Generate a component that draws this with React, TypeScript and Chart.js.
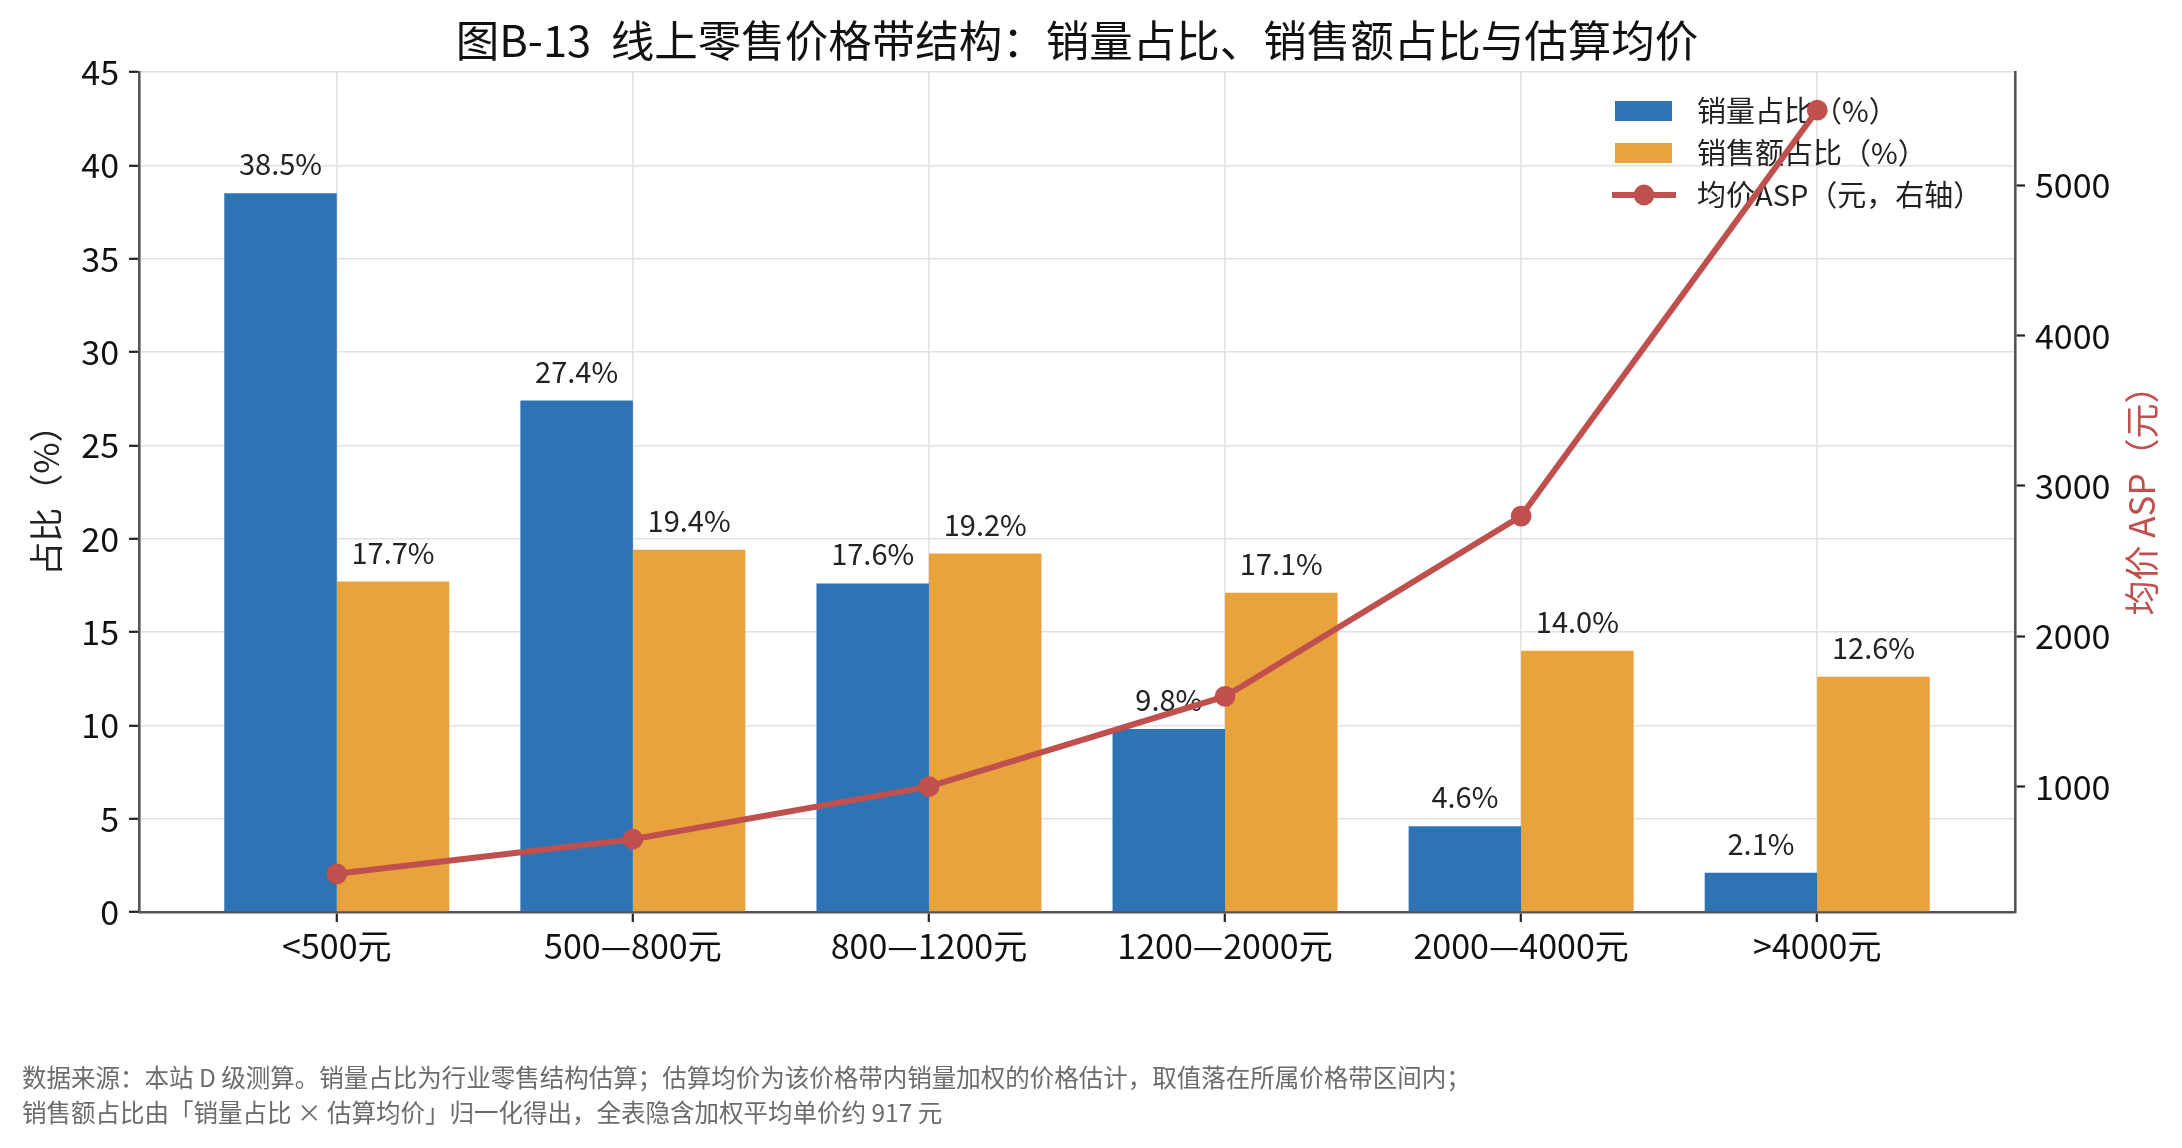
import { Chart, registerables } from 'chart.js';
import { useEffect, useRef } from 'react';

Chart.register(...registerables);

const FONT = "'Noto Sans CJK SC', 'Noto Sans', sans-serif";

const categories = ['<500元', '500—800元', '800—1200元', '1200—2000元', '2000—4000元', '>4000元'];
const volumeShare = [38.5, 27.4, 17.6, 9.8, 4.6, 2.1];
const salesShare = [17.7, 19.4, 19.2, 17.1, 14.0, 12.6];
const avgPrice = [420, 650, 1000, 1600, 2800, 5500];
const rightTicks = [1000, 2000, 3000, 4000, 5000];
const legendLabels = ['销量占比（%）', '销售额占比（%）', '均价ASP（元，右轴）'];

const titleText = '图B-13  线上零售价格带结构：销量占比、销售额占比与估算均价';
const noteLines = [
  '数据来源：本站 D 级测算。销量占比为行业零售结构估算；估算均价为该价格带内销量加权的价格估计，取值落在所属价格带区间内；',
  '销售额占比由「销量占比 × 估算均价」归一化得出，全表隐含加权平均单价约 917 元',
];

const BLUE = '#2E74B5';
const ORANGE = '#E8A33C';
const RED = '#C0504D';
const GRID = '#e2e2e2';
const SPINE = '#555555';

// text, legend and value labels drawn on the canvas
const decorations = {
  id: 'decorations',
  beforeDatasetsDraw(chart: Chart) {
    const ctx = chart.ctx;
    ctx.save();
    // value labels above bars
    ctx.font = `29px ${FONT}`;
    ctx.fillStyle = '#222';
    ctx.textAlign = 'center';
    ctx.textBaseline = 'alphabetic';
    [0, 1].forEach((di) => {
      const meta = chart.getDatasetMeta(di);
      const vals = di === 0 ? volumeShare : salesShare;
      meta.data.forEach((bar: any, i: number) => {
        ctx.fillText(vals[i].toFixed(1) + '%', bar.x, bar.y - 18);
      });
    });

    // legend (under the line)
    const lx = 1615;
    const tx = 1697;
    const rows = [111, 153, 195];
    ctx.fillStyle = BLUE;
    ctx.fillRect(lx, rows[0] - 10, 57, 20);
    ctx.fillStyle = ORANGE;
    ctx.fillRect(lx, rows[1] - 10, 57, 20);
    ctx.strokeStyle = RED;
    ctx.lineWidth = 6;
    ctx.beginPath();
    ctx.moveTo(lx - 3, rows[2]);
    ctx.lineTo(lx + 61, rows[2]);
    ctx.stroke();
    ctx.fillStyle = RED;
    ctx.beginPath();
    ctx.arc(lx + 29, rows[2], 10.4, 0, Math.PI * 2);
    ctx.fill();
    ctx.font = `29px ${FONT}`;
    ctx.fillStyle = '#222';
    ctx.textAlign = 'left';
    ctx.textBaseline = 'middle';
    legendLabels.forEach((t, i) => ctx.fillText(t, tx, rows[i]));
    ctx.restore();
  },
  afterDraw(chart: Chart) {
    const ctx = chart.ctx;
    const { left, right, top, bottom } = chart.chartArea;
    ctx.save();
    // title
    ctx.font = `43.5px ${FONT}`;
    ctx.fillStyle = '#111';
    ctx.textAlign = 'center';
    ctx.textBaseline = 'middle';
    ctx.fillText(titleText, (left + right) / 2, 40);

    // right axis title
    ctx.save();
    ctx.translate(2142, (top + bottom) / 2);
    ctx.rotate(-Math.PI / 2);
    ctx.font = `35px ${FONT}`;
    ctx.fillStyle = RED;
    ctx.fillText('均价 ASP（元）', 0, 0);
    ctx.restore();

    // footnote
    ctx.font = `24.5px ${FONT}`;
    ctx.fillStyle = '#6b6b6b';
    ctx.textAlign = 'left';
    noteLines.forEach((t, i) => ctx.fillText(t, 22, 1078 + i * 35));
    ctx.restore();
  },
};

const App: React.FC = () => {
  const ref = useRef<HTMLCanvasElement>(null);
  const chartInstance = useRef<Chart | null>(null);

  useEffect(() => {
    if (!ref.current) return;
    const ctx = ref.current.getContext('2d');
    if (!ctx) return;
    if (chartInstance.current) chartInstance.current.destroy();

    Chart.defaults.font.family = FONT;

    chartInstance.current = new Chart(ctx, {
      type: 'bar',
      data: {
        datasets: [
          {
            type: 'bar',
            label: legendLabels[0],
            data: volumeShare.map((v, i) => ({ x: i, y: v })),
            backgroundColor: BLUE,
            yAxisID: 'y',
            order: 1,
            categoryPercentage: 0.76,
            barPercentage: 1,
          },
          {
            type: 'bar',
            label: legendLabels[1],
            data: salesShare.map((v, i) => ({ x: i, y: v })),
            backgroundColor: ORANGE,
            yAxisID: 'y',
            order: 1,
            categoryPercentage: 0.76,
            barPercentage: 1,
          },
          {
            type: 'line',
            label: legendLabels[2],
            data: avgPrice.map((v, i) => ({ x: i, y: v })),
            borderColor: RED,
            backgroundColor: RED,
            borderWidth: 6,
            pointRadius: 10.4,
            pointBorderWidth: 0,
            pointBackgroundColor: RED,
            yAxisID: 'y1',
            order: 0,
            tension: 0,
          },
        ] as any,
      },
      options: {
        animation: false,
        responsive: true,
        maintainAspectRatio: false,
        layout: { padding: { top: 72, left: 0, right: 0, bottom: 0 } },
        plugins: {
          legend: { display: false },
          tooltip: { enabled: false },
          title: { display: false },
        },
        scales: {
          x: {
            type: 'linear',
            min: -0.668,
            max: 5.668,
            offset: false,
            afterBuildTicks: (scale: any) => {
              scale.ticks = categories.map((_, i) => ({ value: i }));
            },
            afterFit: (scale: any) => {
              scale.height = 236;
            },
            grid: {
              offset: false,
              color: GRID,
              lineWidth: 1.6,
              tickColor: '#222',
              tickLength: 10,
              tickWidth: 2.2,
            },
            border: { display: true, color: SPINE, width: 2.6 },
            ticks: {
              padding: 4,
              color: '#111',
              font: { size: 34 },
              maxRotation: 0,
              autoSkip: false,
              callback: (v: any) => categories[v] ?? '',
            },
          },
          y: {
            type: 'linear',
            position: 'left',
            min: 0,
            max: 45,
            afterFit: (scale: any) => {
              scale.width = 139;
            },
            grid: {
              color: GRID,
              lineWidth: 1.6,
              tickColor: '#222',
              tickLength: 10,
              tickWidth: 2.2,
            },
            border: { display: true, color: SPINE, width: 2.6 },
            ticks: {
              stepSize: 5,
              padding: 10,
              color: '#111',
              font: { size: 34 },
            },
            title: {
              display: true,
              text: '占比（%）',
              color: '#222',
              font: { size: 34 },
              padding: { top: 26, bottom: 0 },
            },
          },
          y1: {
            type: 'linear',
            position: 'right',
            min: 166,
            max: 5754,
            afterBuildTicks: (scale: any) => {
              scale.ticks = rightTicks.map((v) => ({ value: v }));
            },
            afterFit: (scale: any) => {
              scale.width = 167;
            },
            grid: {
              drawOnChartArea: false,
              tickColor: '#222',
              tickLength: 10,
              tickWidth: 2.2,
            },
            border: { display: true, color: SPINE, width: 2.6 },
            ticks: {
              padding: 10,
              color: '#111',
              font: { size: 34 },
              callback: (v: any) => String(v),
            },
          },
        },
      } as any,
      plugins: [decorations],
    });

    return () => {
      if (chartInstance.current) {
        chartInstance.current.destroy();
        chartInstance.current = null;
      }
    };
  }, []);

  return (
    <div style={{ position: 'absolute', left: 0, top: 0, width: 2182, height: 1148, background: '#fff' }}>
      <canvas ref={ref}></canvas>
    </div>
  );
};

export default App;
